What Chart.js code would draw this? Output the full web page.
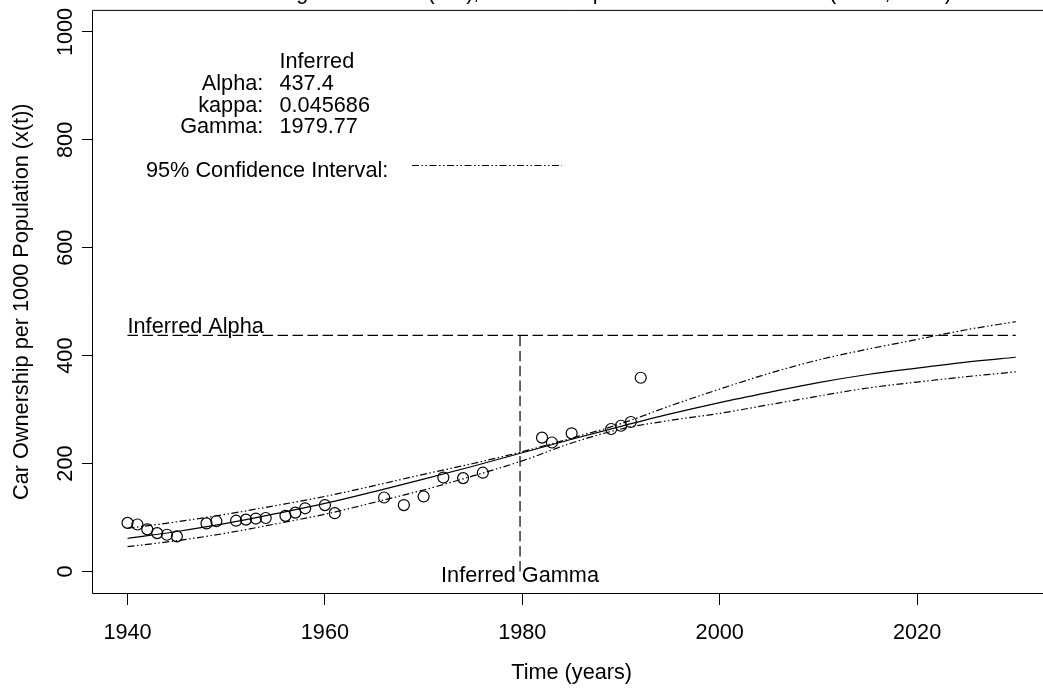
<!DOCTYPE html>
<html>
<head>
<meta charset="utf-8">
<script src="https://cdn.jsdelivr.net/npm/chart.js@4.4.1/dist/chart.umd.min.js"></script>
<style>
html,body{margin:0;padding:0;overflow:hidden;background:#fff;width:1043px;height:688px}
#wrap{position:absolute;left:0;top:0;width:1058px;height:688px}
canvas{display:block}
</style>
</head>
<body>
<div id="wrap"><canvas id="c" width="1058" height="688"></canvas></div>
<script>
// ---------------- data ----------------
const obsYears  = [1940,1941,1942,1943,1944,1945,1948,1949,1951,1952,1953,1954,1956,1957,1958,1960,1961,1966,1968,1970,1972,1974,1976,1982,1983,1985,1989,1990,1991,1992];
const obsValues = [90,87,78,71,68,65,89,93,94,96,98,99,103,109,117,123,108,137,123,139,174,173,183,248,239,256,264,270,277,359];

const curveYears   = [1940,1945,1950,1955,1960,1965,1970,1975,1980,1985,1990,1995,2000,2005,2010,2015,2020,2025,2030];
const fittedValues = [61,74,89,107,126,148,171,195,220,245,269,292,313,332,350,365,377,388,397];
const upperCI      = [80,92,106,122,139,159,180,200,222,247,274,307,338,367,392,412,430,448,463];
const lowerCI      = [46,57,71,88,106,128,151,177,205,238,264,280,293,309,325,340,351,361,370];

const alphaValue = 437.4;
const gammaValue = 1979.77;

const xTicks = [1940,1960,1980,2000,2020];
const yTicks = [0,200,400,600,800,1000];

const paramNames  = ['Alpha:','kappa:','Gamma:'];
const paramValues = ['437.4','0.045686','1979.77'];

const titleText = 'Inferred Logistic Growth (GB), with a Sample and Forecast Period (1940, 2030)';
const xTitle = 'Time (years)';
const yTitle = 'Car Ownership per 1000 Population (x(t))';

// ---------------- helpers ----------------
const FONT = '"Liberation Sans", Arial, Helvetica, sans-serif';
const FS = 21.7;
const CI_DASH = [7,2.5,1.5,2.5,1.5,2.5];
const LONG_DASH = [10.5,4.5];
const pts = (xs, ys) => xs.map((x,i)=>({x:x, y:ys[i]}));

const decor = {
  id:'decor',
  afterDraw(chart){
    const ctx = chart.ctx, ca = chart.chartArea;
    const xs = chart.scales.x, ys = chart.scales.y;
    ctx.save();
    // box
    ctx.strokeStyle = '#000'; ctx.lineWidth = 1; ctx.setLineDash([]);
    ctx.beginPath();
    const L = Math.round(ca.left)+0.5, B = Math.round(ca.bottom)+0.5;
    ctx.moveTo(L, ca.top); ctx.lineTo(ca.right, ca.top); ctx.lineTo(ca.right, B); ctx.lineTo(L, B); ctx.closePath();
    ctx.stroke();

    ctx.fillStyle = '#000';
    ctx.font = FS + 'px ' + FONT;
    // title (cut off at top of the picture)
    ctx.textAlign = 'center'; ctx.textBaseline = 'alphabetic';
    ctx.fillText(titleText, (ca.left+ca.right)/2, -0.8);

    // x tick labels
    xTicks.forEach(v=>{ ctx.fillText(String(v), xs.getPixelForValue(v), 639); });
    // x title
    ctx.fillText(xTitle, (ca.left+ca.right)/2, 679);

    // y tick labels (rotated)
    yTicks.forEach(v=>{
      ctx.save(); ctx.translate(71.5, ys.getPixelForValue(v)); ctx.rotate(-Math.PI/2);
      ctx.textAlign='center'; ctx.fillText(String(v), 0, 0); ctx.restore();
    });
    // y title
    ctx.save(); ctx.translate(28, (ca.top+ca.bottom)/2); ctx.rotate(-Math.PI/2);
    ctx.textAlign='center'; ctx.fillText(yTitle, 0, 0); ctx.restore();

    // parameter block
    ctx.textAlign = 'left';
    ctx.fillText('Inferred', 279.5, 68.3);
    const base = [90, 111.5, 133.3];
    paramNames.forEach((n,i)=>{
      ctx.textAlign='right'; ctx.fillText(n, 263.3, base[i]);
      ctx.textAlign='left'; ctx.fillText(paramValues[i], 279.5, base[i]);
    });
    ctx.textAlign='left';
    ctx.fillText('95% Confidence Interval:', 146, 176.7);
    ctx.beginPath(); ctx.setLineDash(CI_DASH); ctx.lineWidth = 1.2;
    ctx.moveTo(412, 165.5); ctx.lineTo(562, 165.5); ctx.stroke(); ctx.setLineDash([]);

    // annotations
    ctx.textAlign='left';
    ctx.fillText('Inferred Alpha', xs.getPixelForValue(curveYears[0]), 332.7);
    ctx.textAlign='center';
    ctx.fillText('Inferred Gamma', xs.getPixelForValue(gammaValue), 582);
    ctx.restore();
  }
};

const lineDs = (data, dash, order, w) => ({
  data, showLine:true, borderColor:'#000', borderWidth:w || 1.2, borderDash:dash,
  pointRadius:0, pointHoverRadius:0, fill:false, cubicInterpolationMode:'monotone', order
});

new Chart(document.getElementById('c'), {
  type:'scatter',
  data:{
    datasets:[
      {data:pts(obsYears, obsValues), showLine:false, pointRadius:5.5, pointHoverRadius:5.5,
       pointBorderColor:'#000', pointBackgroundColor:'rgba(0,0,0,0)', pointBorderWidth:1.2, order:0},
      lineDs(pts(curveYears, fittedValues), [], 1),
      lineDs(pts(curveYears, upperCI), CI_DASH, 1),
      lineDs(pts(curveYears, lowerCI), CI_DASH, 1),
      lineDs([{x:curveYears[0], y:alphaValue},{x:curveYears[curveYears.length-1], y:alphaValue}], LONG_DASH, 2, 1.2),
      lineDs([{x:gammaValue, y:0},{x:gammaValue, y:alphaValue}], LONG_DASH, 2, 1.2)
    ]
  },
  options:{
    responsive:false, animation:false, devicePixelRatio:1,
    layout:{padding:{top:10.4, right:3.7, left:0, bottom:0}},
    plugins:{legend:{display:false}, tooltip:{enabled:false}, title:{display:false}},
    events:[],
    scales:{
      x:{type:'linear', position:'bottom', min:1936.4, max:2033.6,
         afterBuildTicks:s=>{ s.ticks = xTicks.map(v=>({value:v})); },
         afterFit:s=>{ s.height = 95; },
         ticks:{display:false},
         grid:{drawOnChartArea:false, drawTicks:true, tickLength:12, color:'#000', lineWidth:1},
         border:{display:false}},
      y:{type:'linear', position:'left', min:-40, max:1040,
         afterBuildTicks:s=>{ s.ticks = yTicks.map(v=>({value:v})); },
         afterFit:s=>{ s.width = 92; },
         ticks:{display:false},
         grid:{drawOnChartArea:false, drawTicks:true, tickLength:10, color:'#000', lineWidth:1},
         border:{display:false}}
    }
  },
  plugins:[decor]
});
</script>
</body>
</html>
